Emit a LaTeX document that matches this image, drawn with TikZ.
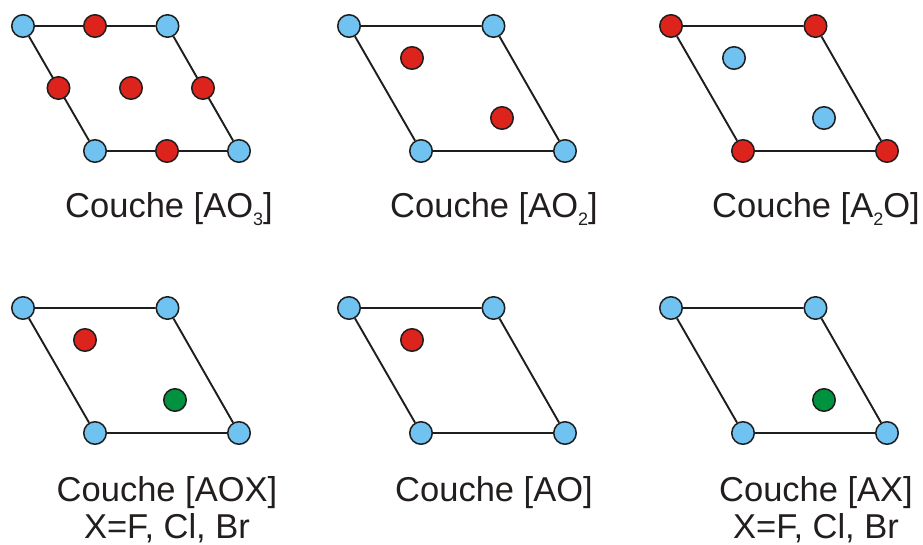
\documentclass[tikz,border=0pt]{standalone}
\usepackage{fontspec}
\setmainfont{Liberation Sans}
\usetikzlibrary{backgrounds}
\definecolor{bl}{RGB}{112,194,240}
\definecolor{rd}{RGB}{220,36,28}
\definecolor{gn}{RGB}{0,146,62}
\definecolor{tx}{RGB}{35,30,30}
\definecolor{ln}{RGB}{30,30,30}
\tikzset{
 px/.style={x=1pt,y=-1pt},
 atom/.style={circle,draw=ln,line width=1.5pt,minimum size=22.5pt,inner sep=0pt},
 ba/.style={atom,fill=bl},
 ra/.style={atom,fill=rd},
 ga/.style={atom,fill=gn},
 cell/.style={line width=1.9pt,draw=ln},
 lab/.style={text=tx,font=\fontsize{34.5}{38}\selectfont,inner sep=0pt,anchor=base}
}
\newcommand{\sbs}[1]{\raisebox{-0.22em}{\fontsize{18}{18}\selectfont #1}}
\newcommand{\cellat}[3]{%
 \begin{scope}[shift={(#1,#2)}]
  \node[ba] (#3a) at (0,0) {};
  \node[ba] (#3b) at (144.5,0) {};
  \node[ba] (#3c) at (216,125) {};
  \node[ba] (#3d) at (72,125) {};
 \end{scope}
 \begin{scope}[on background layer]
  \draw[cell] (#3a)--(#3b)--(#3c)--(#3d)--(#3a);
 \end{scope}}
\begin{document}
\begin{tikzpicture}[px]
\useasboundingbox (0,0) rectangle (923,545);
\cellat{23}{26}{p}
\node[ra] (o1) at (95,26) {};
\node[ra] (o2) at (58.5,88) {};
\node[ra] (o3) at (131,88) {};
\node[ra] (o4) at (203,88) {};
\node[ra] (o5) at (167,151) {};
\cellat{349}{26}{q}
\node[ra] (o6) at (412,58) {};
\node[ra] (o7) at (502,118) {};
\cellat{23}{308}{s}
\node[ra] (o8) at (85,340) {};
\node[ga] (o9) at (175,400) {};
\cellat{349}{308}{t}
\node[ra] (o10) at (412,340) {};
\cellat{671}{308}{u}
\node[ga] (o11) at (824,400) {};
% third top
\begin{scope}[shift={(671,26)}]
  \node[ra] (ra) at (0,0) {};
  \node[ra] (rb) at (144.5,0) {};
  \node[ra] (rc) at (216,125) {};
  \node[ra] (rd) at (72,125) {};
\end{scope}
\begin{scope}[on background layer]
  \draw[cell] (ra)--(rb)--(rc)--(rd)--(ra);
\end{scope}
\node[ba] (b1) at (734,58) {};
\node[ba] (b2) at (824,118) {};
\node[lab] (l1) at (169,218) {Couche [AO\sbs{3}]};
\node[lab] (l2) at (494,218) {Couche [AO\sbs{2}]};
\node[lab] (l3) at (816,218) {Couche [A\sbs{2}O]};
\node[lab] (l4) at (167,501) {Couche [AOX]};
\node[lab] (l5) at (494,501) {Couche [AO]};
\node[lab] (l6) at (816,501) {Couche [AX]};
\node[lab] (l7) at (167,538.5) {X=F, Cl, Br};
\node[lab] (l8) at (816,538.5) {X=F, Cl, Br};
\end{tikzpicture}
\end{document}
